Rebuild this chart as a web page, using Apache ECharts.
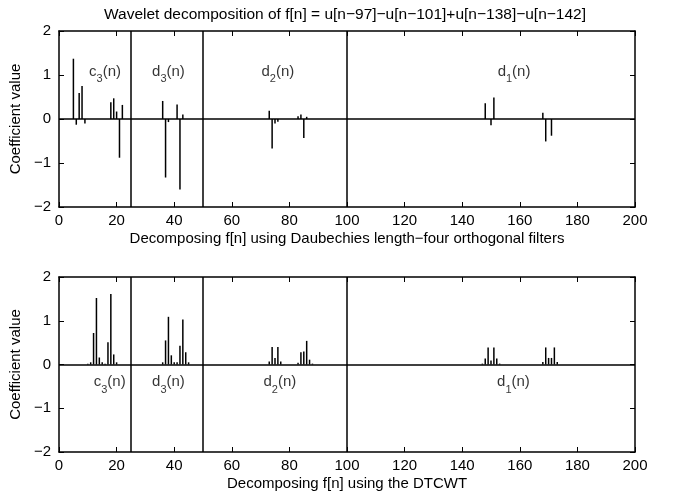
<!DOCTYPE html>
<html>
<head>
<meta charset="utf-8">
<script src="https://cdn.jsdelivr.net/npm/echarts@6/dist/echarts.min.js"></script>
<style>
  html, body { margin: 0; padding: 0; background: #fff; }
  #chart { width: 675px; height: 492px; }
</style>
</head>
<body>
<div id="chart"></div>
<script>
// DWT (Daubechies length-4) coefficients
var dwtN = [5, 6, 7, 8, 9, 18, 19, 20, 21, 22, 36, 37, 38, 41, 42, 43,
  73, 74, 75, 76, 83, 84, 85, 86, 148, 150, 151, 168, 169, 171]
var dwtVal = [1.37, -0.13, 0.59, 0.75, -0.1, 0.38, 0.47, 0.17, -0.88, 0.32,
  0.41, -1.33, -0.07, 0.33, -1.6, 0.1,
  0.19, -0.67, -0.1, -0.06, 0.06, 0.1, -0.43, 0.05,
  0.36, -0.14, 0.49, 0.14, -0.51, -0.38]

// DTCWT coefficient magnitudes, lower plot
var dtcwtN = [10, 11, 12, 13, 14, 15, 16, 17, 18, 19, 20,
  36, 37, 38, 39, 40, 41, 42, 43, 44, 45,
  73, 74, 75, 76, 77, 83, 84, 85, 86, 87, 88,
  147, 148, 149, 150, 151, 152, 153,
  168, 169, 170, 171, 172, 173]
var dtcwtVal = [0.02, 0.05, 0.72, 1.52, 0.16, 0.05, 0.02, 0.51, 1.61, 0.23, 0.05,
  0.05, 0.55, 1.09, 0.21, 0.05, 0.05, 0.43, 1.03, 0.28, 0.05,
  0.07, 0.4, 0.15, 0.4, 0.07, 0.04, 0.28, 0.3, 0.54, 0.11, 0.02,
  0.02, 0.14, 0.39, 0.09, 0.39, 0.14, 0.02,
  0.06, 0.39, 0.15, 0.15, 0.39, 0.06]

// subband boundaries and names
var bandEdges = [25, 50, 100]
var bandLetter = ['c', 'd', 'd', 'd']
var bandLevel = ['3', '3', '2', '1']

var xTicks = [0, 20, 40, 60, 80, 100, 120, 140, 160, 180, 200]
var yTicks = [-2, -1, 0, 1, 2]

var titleText = 'Wavelet decomposition of f[n] = u[n\u221297]\u2212u[n\u2212101]+u[n\u2212138]\u2212u[n\u2212142]'
var xNames = ['Decomposing f[n] using Daubechies length\u2212four orthogonal filters',
  'Decomposing f[n] using the DTCWT']
var yName = 'Coefficient value'

// where the subband names sit (data coords)
var labelPosTop = [[16, 1.07], [38, 1.07], [76, 1.07], [158, 1.07]]
var labelPosBottom = [[17.6, -0.4], [38, -0.4], [76.7, -0.4], [157.8, -0.4]]

var FONT = 'Liberation Sans, Arial, Helvetica, sans-serif'
var chart = echarts.init(document.getElementById('chart'))

function minus(v) {
  return v < 0 ? '\u2212' + Math.abs(v) : String(v)
}

var grids = [
  { left: 55, right: 40, top: 31, height: 176 },
  { left: 55, right: 40, top: 277, height: 176 }
]

var xAxes = []
var yAxes = []
grids.forEach(function(g, i) {
  var common = {
    type: 'value', gridIndex: i, min: xTicks[0], max: xTicks[xTicks.length - 1], interval: 20,
    splitLine: { show: false },
    axisLine: { onZero: false, lineStyle: { color: '#000', width: 1.5 } },
    axisTick: { inside: true, length: 5, lineStyle: { color: '#000', width: 1 } }
  }
  xAxes.push(Object.assign({}, common, {
    position: 'bottom',
    name: xNames[i], nameLocation: 'middle', nameGap: 24,
    nameTextStyle: { color: '#000', fontSize: 15, fontFamily: FONT },
    axisLabel: { color: '#000', fontSize: 15, fontFamily: FONT, margin: 6 }
  }))
  xAxes.push(Object.assign({}, common, { position: 'top', axisLabel: { show: false } }))
  var ycommon = {
    type: 'value', gridIndex: i, min: yTicks[0], max: yTicks[yTicks.length - 1], interval: 1,
    splitLine: { show: false },
    axisLine: { onZero: false, lineStyle: { color: '#000', width: 1.5 } },
    axisTick: { inside: true, length: 5, lineStyle: { color: '#000', width: 1 } }
  }
  yAxes.push(Object.assign({}, ycommon, {
    position: 'left',
    name: yName, nameLocation: 'middle', nameGap: 27,
    nameTextStyle: { color: '#000', fontSize: 15, fontFamily: FONT },
    axisLabel: { color: '#000', fontSize: 15, fontFamily: FONT, margin: 8, formatter: minus }
  }))
  yAxes.push(Object.assign({}, ycommon, { position: 'right', axisLabel: { show: false } }))
})

function stems(ns, vals) {
  return ns.map(function(n, k) { return [n, vals[k]] })
}

function dividers() {
  var d = [{ yAxis: 0 }]
  bandEdges.forEach(function(e) { d.push({ xAxis: e }) })
  return d
}

function bandLabels(pos) {
  return pos.map(function(p, k) {
    return { value: p, letter: bandLetter[k], level: bandLevel[k] }
  })
}

var labelStyle = {
  show: true,
  position: 'inside',
  formatter: function(p) {
    return '{a|' + p.data.letter + '}{s|' + p.data.level + '}{a|(n)}'
  },
  rich: {
    a: { color: '#000', fontSize: 15, fontFamily: FONT, lineHeight: 26 },
    s: { color: '#000', fontSize: 11, fontFamily: FONT, lineHeight: 10, verticalAlign: 'bottom' }
  }
}

var series = []
;[[dwtN, dwtVal, labelPosTop], [dtcwtN, dtcwtVal, labelPosBottom]].forEach(function(s, i) {
  series.push({
    type: 'bar',
    xAxisIndex: i * 2,
    yAxisIndex: i * 2,
    barWidth: 1.5,
    itemStyle: { color: '#000' },
    data: stems(s[0], s[1]),
    silent: true,
    markLine: {
      silent: true,
      symbol: 'none',
      label: { show: false },
      lineStyle: { color: '#000', type: 'solid', width: 1.5 },
      data: dividers()
    }
  })
  series.push({
    type: 'scatter',
    xAxisIndex: i * 2,
    yAxisIndex: i * 2,
    symbolSize: 0,
    silent: true,
    label: labelStyle,
    data: bandLabels(s[2])
  })
})

chart.setOption({
  backgroundColor: '#fff',
  animation: false,
  textStyle: { fontFamily: FONT },
  graphic: [{
    type: 'text', x: 345, y: 15,
    style: { text: titleText, fill: '#000', font: '15.5px ' + FONT, textAlign: 'center', textVerticalAlign: 'middle' }
  }],
  grid: grids,
  xAxis: xAxes,
  yAxis: yAxes,
  series: series
})
</script>
</body>
</html>
